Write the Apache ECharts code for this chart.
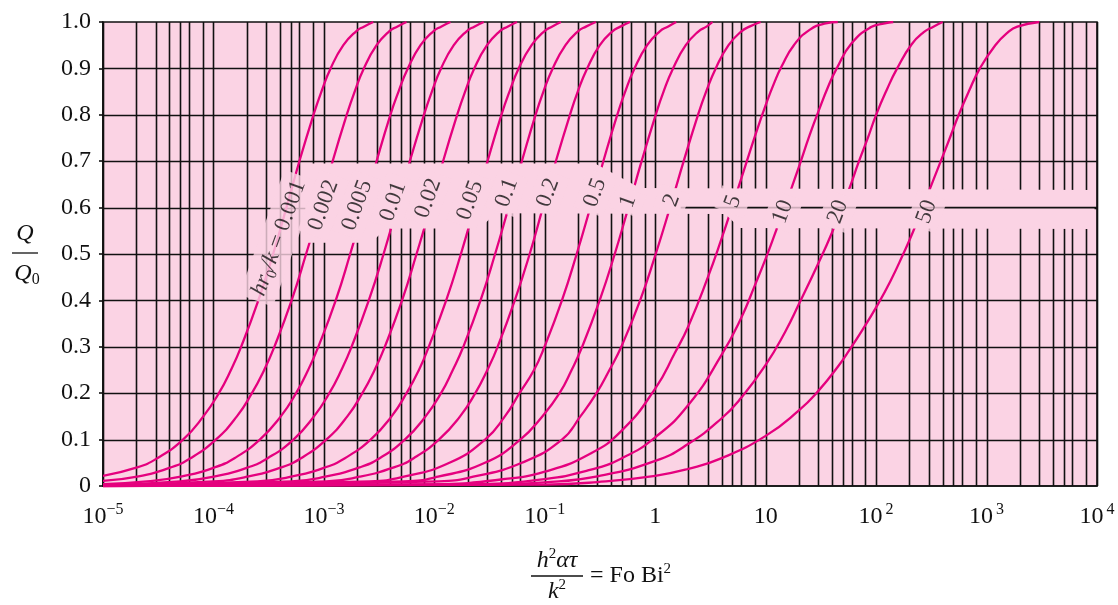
<!DOCTYPE html>
<html>
<head>
<meta charset="utf-8">
<script src="https://cdn.jsdelivr.net/npm/echarts/dist/echarts.min.js"></script>
<style>
html,body{margin:0;padding:0;background:#fff;}
#main{width:1118px;height:605px;}
</style>
</head>
<body>
<div id="main"></div>
<script>
// Q/Q0 vs Fo Bi^2, one curve per hr0/k
var curveNames = ['0.001','0.002','0.005','0.01','0.02','0.05','0.1','0.2','0.5','1','2','5','10','20','50'];

var bi0001 = [[1e-5,0.022],[2.04e-5,0.04],[3.1e-5,0.06],[5.3e-5,0.1],[8.1e-5,0.15],[1.12e-4,0.2],[1.44e-4,0.25],[1.78e-4,0.3],[2.55e-4,0.4],[3.47e-4,0.5],[4.58e-4,0.6],[6.0e-4,0.7],[8.05e-4,0.8],[9.5e-4,0.85],[1.15e-3,0.9],[1.5e-3,0.95],[1.96e-3,0.98],[2.3e-3,0.99],[2.8e-3,1.0]];
var bi0002 = [[1e-5,0.011],[2.04e-5,0.02],[4.1e-5,0.04],[6.2e-5,0.06],[1.05e-4,0.1],[1.63e-4,0.15],[2.23e-4,0.2],[2.88e-4,0.25],[3.56e-4,0.3],[5.1e-4,0.4],[6.9e-4,0.5],[9.2e-4,0.6],[1.2e-3,0.7],[1.61e-3,0.8],[1.9e-3,0.85],[2.3e-3,0.9],[3.0e-3,0.95],[3.9e-3,0.98],[4.6e-3,0.99],[5.6e-3,1.0]];
var bi0005 = [[1e-5,0.004],[2.5e-5,0.01],[5.05e-5,0.02],[1.02e-4,0.04],[1.55e-4,0.06],[2.63e-4,0.1],[4.07e-4,0.15],[5.6e-4,0.2],[7.2e-4,0.25],[8.9e-4,0.3],[1.28e-3,0.4],[1.73e-3,0.5],[2.29e-3,0.6],[3.0e-3,0.7],[4.0e-3,0.8],[4.74e-3,0.85],[5.75e-3,0.9],[7.5e-3,0.95],[9.8e-3,0.98],[1.15e-2,0.99],[1.4e-2,1.0]];
var bi001 = [[1e-5,0.002],[5.0e-5,0.01],[1.01e-4,0.02],[2.04e-4,0.04],[3.1e-4,0.06],[5.3e-4,0.1],[8.13e-4,0.15],[1.12e-3,0.2],[1.44e-3,0.25],[1.78e-3,0.3],[2.55e-3,0.4],[3.47e-3,0.5],[4.58e-3,0.6],[6.0e-3,0.7],[8.05e-3,0.8],[9.5e-3,0.85],[1.15e-2,0.9],[1.5e-2,0.95],[1.96e-2,0.98],[2.3e-2,0.99],[2.8e-2,1.0]];
var bi002 = [[1e-5,0.001],[1.0e-4,0.01],[2.02e-4,0.02],[4.1e-4,0.04],[6.2e-4,0.06],[1.05e-3,0.1],[1.63e-3,0.15],[2.23e-3,0.2],[2.88e-3,0.25],[3.56e-3,0.3],[5.1e-3,0.4],[6.9e-3,0.5],[9.2e-3,0.6],[1.2e-2,0.7],[1.61e-2,0.8],[1.9e-2,0.85],[2.3e-2,0.9],[3.0e-2,0.95],[3.9e-2,0.98],[4.6e-2,0.99],[5.6e-2,1.0]];
var bi005 = [[1e-5,0.0004],[2.5e-4,0.01],[5.05e-4,0.02],[1.02e-3,0.04],[1.55e-3,0.06],[2.65e-3,0.1],[4.1e-3,0.15],[5.6e-3,0.2],[7.25e-3,0.25],[8.9e-3,0.3],[1.28e-2,0.4],[1.74e-2,0.5],[2.3e-2,0.6],[3.03e-2,0.7],[4.05e-2,0.8],[4.79e-2,0.85],[5.8e-2,0.9],[7.6e-2,0.95],[9.9e-2,0.98],[0.116,0.99],[0.14,1.0]];
var bi01 = [[1e-5,0.0002],[5.1e-4,0.01],[1.03e-3,0.02],[2.1e-3,0.04],[3.2e-3,0.06],[5.4e-3,0.1],[8.33e-3,0.15],[1.15e-2,0.2],[1.47e-2,0.25],[1.83e-2,0.3],[2.62e-2,0.4],[3.55e-2,0.5],[4.7e-2,0.6],[6.2e-2,0.7],[8.25e-2,0.8],[9.72e-2,0.85],[0.118,0.9],[0.154,0.95],[0.2,0.98],[0.236,0.99],[0.29,1.0]];
var bi02 = [[1e-5,0.0001],[1.05e-3,0.01],[2.1e-3,0.02],[4.3e-3,0.04],[6.5e-3,0.06],[1.1e-2,0.1],[1.71e-2,0.15],[2.35e-2,0.2],[3.02e-2,0.25],[3.74e-2,0.3],[5.35e-2,0.4],[7.3e-2,0.5],[9.6e-2,0.6],[0.126,0.7],[0.169,0.8],[0.199,0.85],[0.242,0.9],[0.315,0.95],[0.41,0.98],[0.484,0.99],[0.59,1.0]];
var bi05 = [[1e-5,0],[2.6e-3,0.01],[5.3e-3,0.02],[1.37e-2,0.05],[2.88e-2,0.1],[4.35e-2,0.15],[5.9e-2,0.2],[7.99e-2,0.25],[9.94e-2,0.3],[0.143,0.4],[0.1945,0.5],[0.258,0.6],[0.339,0.7],[0.453,0.8],[0.535,0.85],[0.649,0.9],[0.845,0.95],[1.1,0.98],[1.3,0.99],[1.55,1.0]];
var bi1 = [[1e-5,0],[5.3e-3,0.01],[1.08e-2,0.02],[2.87e-2,0.05],[6.0e-2,0.1],[9.5e-2,0.15],[0.136,0.2],[0.175,0.25],[0.218,0.3],[0.314,0.4],[0.43,0.5],[0.571,0.6],[0.753,0.7],[1.01,0.8],[1.19,0.85],[1.45,0.9],[1.89,0.95],[2.47,0.98],[2.91,0.99],[3.3,1.0]];
var bi2 = [[1e-5,0],[1.1e-2,0.01],[2.25e-2,0.02],[6.2e-2,0.05],[0.143,0.1],[0.21,0.15],[0.294,0.2],[0.385,0.25],[0.493,0.3],[0.73,0.4],[1.01,0.5],[1.36,0.6],[1.81,0.7],[2.44,0.8],[2.89,0.85],[3.53,0.9],[4.61,0.95],[6.04,0.98],[7.13,0.99],[9.0,1.0]];
var bi5 = [[1e-5,0],[1e-2,0.0037],[4e-2,0.014],[0.1,0.031],[0.25,0.068],[0.5,0.12],[1,0.21],[1.5,0.286],[2,0.345],[3,0.45],[4,0.534],[5,0.604],[6,0.662],[8,0.754],[10,0.821],[12,0.87],[14,0.905],[18,0.95],[25,0.983],[35,0.997],[45,1.0]];
var bi10 = [[1e-5,0],[2e-2,0.0035],[0.1,0.015],[0.25,0.034],[0.5,0.06],[1,0.105],[2,0.175],[4,0.283],[6,0.362],[8,0.433],[10,0.49],[12.5,0.552],[15,0.603],[20,0.688],[25,0.756],[30,0.807],[37,0.862],[44,0.9],[60,0.954],[90,0.989],[120,0.997],[143,1.0]];
var bi20 = [[1e-5,0],[3e-2,0.003],[0.1,0.0078],[0.3,0.021],[1,0.054],[2,0.091],[4,0.146],[6,0.19],[10,0.261],[15,0.332],[20,0.392],[30,0.48],[40,0.547],[55,0.63],[70,0.7],[85,0.753],[100,0.8],[125,0.854],[155,0.9],[210,0.952],[270,0.978],[330,0.99],[400,1.0]];
var bi50 = [[1e-5,0],[0.1,0.003],[0.3,0.0085],[1,0.022],[2,0.037],[4,0.06],[10,0.108],[20,0.163],[30,0.205],[45,0.257],[58,0.295],[75,0.336],[100,0.385],[135,0.442],[176,0.5],[215,0.547],[263,0.6],[385,0.7],[465,0.75],[560,0.8],[690,0.85],[870,0.9],[1200,0.95],[1550,0.977],[1900,0.99],[3000,1.0]];

var curves = [bi0001,bi0002,bi0005,bi001,bi002,bi005,bi01,bi02,bi05,bi1,bi2,bi5,bi10,bi20,bi50];

// where each hr0/k label sits on its curve
var labelX = [3.9e-4, 9.9e-4, 2.0e-3, 4.24e-3, 8.8e-3, 0.0211, 0.0453, 0.107, 0.285, 0.567, 1.41, 5.06, 14.3, 45.1, 287];
var labelY = [0.534, 0.605, 0.605, 0.613, 0.62, 0.616, 0.632, 0.632, 0.632, 0.613, 0.616, 0.613, 0.591, 0.591, 0.591];

// ticks
var xDecades = [-5,-4,-3,-2,-1,0,1,2,3,4];
var minorSteps = [2,3,4,5,6,8];
var yTicks = [0.1,0.2,0.3,0.4,0.5,0.6,0.7,0.8,0.9];

// blank band behind the labels
var bandMask = [[6.8e-4,0.695],[0.285,0.695],[0.73,0.642],[9.5e3,0.638],[9.5e3,0.554],[5.85,0.556],[4.3,0.586],[0.0355,0.588],[0.026,0.555],[3.6e-3,0.555],[2.7e-3,0.524],[6.8e-4,0.524]];

var serif = '"Liberation Serif", "Times New Roman", serif';
var pink = '#fbd3e4';
var magenta = '#e5007e';
var ink = '#111';

var gridX = [];
xDecades.forEach(function(d){
    var base = Math.pow(10, d);
    gridX.push([base, 0.5]);
    if (d < 4) {
        minorSteps.forEach(function(m){ gridX.push([m * base, 0.5]); });
    }
});

var series = [];
series.push({
    type: 'custom', z: 1, silent: true,
    data: gridX, encode: {x: 0, y: 1},
    renderItem: function(params, api){
        var p0 = api.coord([api.value(0), 0]);
        var p1 = api.coord([api.value(0), 1]);
        var x = Math.round(p0[0]) + 0.5;
        return {type: 'line', shape: {x1: x, y1: p0[1], x2: x, y2: p1[1]}, style: {stroke: ink, lineWidth: 1.6}};
    }
});
series.push({
    type: 'custom', z: 1, silent: true,
    data: yTicks.map(function(v){ return [1, v]; }), encode: {x: 0, y: 1},
    renderItem: function(params, api){
        var p0 = api.coord([1e-5, api.value(1)]);
        var p1 = api.coord([1e4, api.value(1)]);
        var y = Math.round(p0[1]) + 0.5;
        return {type: 'line', shape: {x1: p0[0], y1: y, x2: p1[0], y2: y}, style: {stroke: ink, lineWidth: 1.6}};
    }
});
curves.forEach(function(d, i){
    series.push({
        type: 'line', name: curveNames[i], data: d, z: 2, silent: true,
        smooth: 0.5, showSymbol: false, symbol: 'none',
        lineStyle: {color: magenta, width: 2.3}
    });
});
series.push({
    type: 'custom', z: 3, silent: true,
    data: [[1, 0.5]], encode: {x: 0, y: 1},
    renderItem: function(params, api){
        return {type: 'polygon', shape: {points: bandMask.map(function(p){ return api.coord(p); })}, style: {fill: pink}};
    }
});
series.push({
    type: 'line', z: 4, silent: true, showSymbol: false, symbol: 'none',
    data: [[1.7, 0.6], [1e4, 0.6]],
    lineStyle: {color: ink, width: 1.6}
});
series.push({
    type: 'scatter', z: 5, silent: true,
    symbolSize: 0.1,
    itemStyle: {color: 'rgba(0,0,0,0)'},
    data: curveNames.map(function(n, i){ return {name: n, value: [labelX[i], labelY[i]]}; }),
    label: {
        show: true, position: 'inside', rotate: 70,
        fontFamily: serif, fontSize: 23, color: ink,
        backgroundColor: pink, padding: [4, 6],
        formatter: function(p){
            return p.dataIndex === 0 ? '{i|hr}{s|0}{i|/k} = 0.001' : p.name;
        },
        rich: {
            i: {fontFamily: serif, fontSize: 23, fontStyle: 'italic', color: ink, lineHeight: 28},
            s: {fontFamily: serif, fontSize: 15, color: ink, verticalAlign: 'bottom', lineHeight: 16}
        }
    }
});

var option = {
    animation: false,
    backgroundColor: '#fff',
    grid: {left: 103, right: 21, top: 22, bottom: 119, show: true, backgroundColor: pink, borderColor: ink, borderWidth: 1.6},
    xAxis: {
        type: 'log', logBase: 10, min: 1e-5, max: 1e4,
        axisLine: {lineStyle: {color: ink, width: 1.6}},
        axisTick: {show: false},
        splitLine: {show: false},
        axisLabel: {
            margin: 16, showMinLabel: true, showMaxLabel: true,
            formatter: function(v){
                var e = Math.round(Math.log10(v));
                if (e === 0) return '{b|1}';
                if (e === 1) return '{b|10}';
                if (e < 0) return '{b|10}{s|\u2212' + (-e) + '}';
                return '{b|10}{p|' + e + '}';
            },
            rich: {
                b: {fontFamily: serif, fontSize: 24, color: ink, lineHeight: 30},
                s: {fontFamily: serif, fontSize: 16, color: ink, verticalAlign: 'top', lineHeight: 16},
                p: {fontFamily: serif, fontSize: 16, color: ink, verticalAlign: 'top', lineHeight: 16, padding: [0, 0, 0, 3]}
            }
        }
    },
    yAxis: {
        type: 'value', min: 0, max: 1, interval: 0.1,
        axisLine: {show: true, lineStyle: {color: ink, width: 1.6}},
        axisTick: {show: true, length: 4, lineStyle: {color: ink, width: 1.6}},
        splitLine: {show: false},
        axisLabel: {
            margin: 12, fontFamily: serif, fontSize: 24, color: ink,
            formatter: function(v){ return v === 0 ? '0' : v.toFixed(1); }
        }
    },
    graphic: [
        {type: 'text', x: 25, y: 234, style: {text: 'Q', font: 'italic 24px ' + serif, fill: ink, textAlign: 'center', textVerticalAlign: 'middle'}},
        {type: 'line', shape: {x1: 12, y1: 253, x2: 38, y2: 253}, style: {stroke: ink, lineWidth: 1.3}},
        {type: 'text', x: 27, y: 274, style: {
            text: '{q|Q}{s|0}', textAlign: 'center', textVerticalAlign: 'middle',
            rich: {q: {fontFamily: serif, fontStyle: 'italic', fontSize: 24, fill: ink, lineHeight: 28}, s: {fontFamily: serif, fontSize: 16, fill: ink, verticalAlign: 'bottom', lineHeight: 16}}
        }},
        {type: 'text', x: 557, y: 561, style: {
            text: '{i|h}{p|2}{i|\u03b1\u03c4}', textAlign: 'center', textVerticalAlign: 'middle',
            rich: {i: {fontFamily: serif, fontStyle: 'italic', fontSize: 24, fill: ink, lineHeight: 28}, p: {fontFamily: serif, fontSize: 15, fill: ink, verticalAlign: 'top', lineHeight: 15}}
        }},
        {type: 'line', shape: {x1: 531, y1: 576, x2: 583, y2: 576}, style: {stroke: ink, lineWidth: 1.3}},
        {type: 'text', x: 557, y: 592, style: {
            text: '{i|k}{p|2}', textAlign: 'center', textVerticalAlign: 'middle',
            rich: {i: {fontFamily: serif, fontStyle: 'italic', fontSize: 24, fill: ink, lineHeight: 28}, p: {fontFamily: serif, fontSize: 15, fill: ink, verticalAlign: 'top', lineHeight: 15}}
        }},
        {type: 'text', x: 590, y: 576, style: {
            text: '{r|= Fo Bi}{p|2}', textAlign: 'left', textVerticalAlign: 'middle',
            rich: {r: {fontFamily: serif, fontSize: 24, fill: ink, lineHeight: 28}, p: {fontFamily: serif, fontSize: 15, fill: ink, verticalAlign: 'top', lineHeight: 15}}
        }}
    ],
    series: series
};

var chart = echarts.init(document.getElementById('main'));
chart.setOption(option);
</script>
</body>
</html>
